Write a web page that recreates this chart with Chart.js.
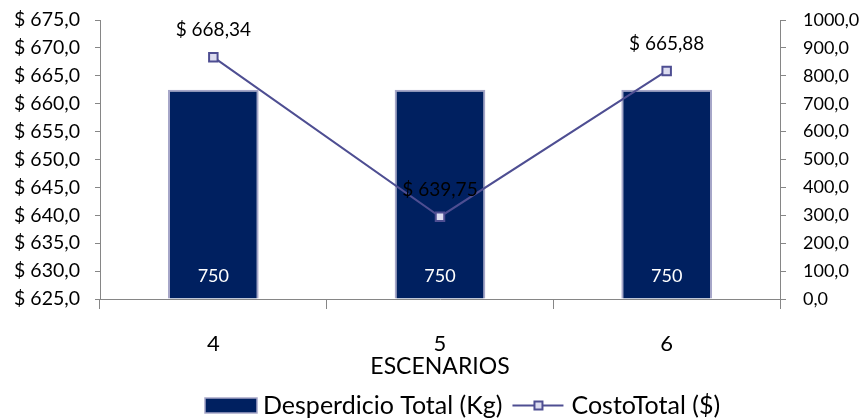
<!DOCTYPE html>
<html>
<head>
<meta charset="utf-8">
<script src="https://cdn.jsdelivr.net/npm/chart.js@4.4.1/dist/chart.umd.min.js"></script>
<style>
  html, body { margin: 0; padding: 0; background: #fff; }
  #wrap { width: 862px; height: 420px; position: relative; }
</style>
</head>
<body>
<div id="wrap"><canvas id="c" width="862" height="420"></canvas></div>
<script>
const categories = ['4', '5', '6'];
const desperdicioTotal = [750, 750, 750];
const costoTotal = [668.34, 639.75, 665.88];
const leftAxisMin = 625, leftAxisMax = 675, leftAxisStep = 5;
const rightAxisMin = 0, rightAxisMax = 1000, rightAxisStep = 100;
const xAxisTitle = 'ESCENARIOS';
const seriesNames = ['Desperdicio Total (Kg)', 'CostoTotal ($)'];

const FONT = 'Lato';
const AXIS_COLOR = '#868686';
const BAR_COLOR = '#002060';
const BAR_BORDER = '#a6a6c8';
const LINE_COLOR = '#4e4e92';
const MARKER_FILL = '#dcdcf0';

const fmt1 = v => v.toFixed(1).replace('.', ',');
const fmt2 = v => v.toFixed(2).replace('.', ',');

const labelsPlugin = {
  id: 'labelsPlugin',
  afterDatasetsDraw(chart) {
    const ctx = chart.ctx;
    ctx.save();
    const barMeta = chart.getDatasetMeta(0);
    ctx.font = '18px ' + FONT;
    ctx.fillStyle = '#ffffff';
    ctx.textAlign = 'center';
    ctx.textBaseline = 'middle';
    barMeta.data.forEach((el, i) => {
      ctx.fillText(String(chart.data.datasets[0].data[i]), el.x, el.base - 22);
    });
    const lineMeta = chart.getDatasetMeta(1);
    ctx.font = '19px ' + FONT;
    ctx.fillStyle = '#000000';
    lineMeta.data.forEach((el, i) => {
      ctx.fillText('$ ' + fmt2(chart.data.datasets[1].data[i]), el.x, el.y - 27);
    });
    ctx.restore();
  },
  afterDraw(chart) {
    const ctx = chart.ctx;
    ctx.save();
    ctx.font = '25px ' + FONT;
    ctx.textBaseline = 'middle';
    ctx.textAlign = 'left';
    const cy = 405.5;
    let x = 205;
    ctx.fillStyle = BAR_COLOR;
    ctx.fillRect(x, cy - 7.5, 52, 15);
    ctx.strokeStyle = BAR_BORDER;
    ctx.lineWidth = 1.5;
    ctx.strokeRect(x, cy - 7.5, 52, 15);
    x += 58;
    ctx.fillStyle = '#000';
    ctx.fillText(seriesNames[0], x, cy);
    x += ctx.measureText(seriesNames[0]).width + 10;
    ctx.strokeStyle = LINE_COLOR;
    ctx.lineWidth = 2;
    ctx.beginPath();
    ctx.moveTo(x, cy);
    ctx.lineTo(x + 51, cy);
    ctx.stroke();
    ctx.fillStyle = MARKER_FILL;
    ctx.fillRect(x + 22, cy - 4, 8, 8);
    ctx.strokeRect(x + 22, cy - 4, 8, 8);
    x += 59;
    ctx.fillStyle = '#000';
    ctx.fillText(seriesNames[1], x, cy);
    ctx.restore();
  }
};

function fixY(width) {
  return function (s) {
    s.width = width;
    s.paddingTop = 8;
    s.paddingBottom = 8;
  };
}

new Chart(document.getElementById('c'), {
  data: {
    labels: categories,
    datasets: [
      {
        type: 'bar',
        label: seriesNames[0],
        data: desperdicioTotal,
        yAxisID: 'yR',
        backgroundColor: BAR_COLOR,
        borderColor: BAR_BORDER,
        borderWidth: 2,
        barPercentage: 0.4,
        categoryPercentage: 1.0,
        order: 2
      },
      {
        type: 'line',
        label: seriesNames[1],
        data: costoTotal,
        yAxisID: 'yL',
        borderColor: LINE_COLOR,
        borderWidth: 2,
        pointStyle: 'rect',
        pointRadius: 6,
        pointBackgroundColor: MARKER_FILL,
        pointBorderColor: LINE_COLOR,
        pointBorderWidth: 2,
        tension: 0,
        order: 1
      }
    ]
  },
  options: {
    responsive: false,
    animation: false,
    devicePixelRatio: 1,
    layout: { padding: { top: 20, left: 0, right: 0, bottom: 40 } },
    plugins: { legend: { display: false }, tooltip: { enabled: false } },
    scales: {
      x: {
        offset: true,
        grid: { offset: true, drawOnChartArea: false, drawTicks: true, tickLength: 10, color: AXIS_COLOR, lineWidth: 1 },
        border: { color: AXIS_COLOR, width: 1 },
        ticks: { color: '#000', font: { family: FONT, size: 22 }, padding: 22, maxRotation: 0 },
        title: { display: true, text: xAxisTitle, color: '#000', font: { family: FONT, size: 23 }, padding: 0 },
        afterFit(s) { s.height = 81; }
      },
      yL: {
        position: 'left',
        min: leftAxisMin, max: leftAxisMax,
        grid: { drawOnChartArea: false, drawTicks: true, tickLength: 5, color: AXIS_COLOR },
        border: { color: AXIS_COLOR, width: 1 },
        ticks: { stepSize: leftAxisStep, color: '#000', font: { family: FONT, size: 19.5 }, padding: 15,
                 callback: v => '$ ' + fmt1(v) },
        afterFit: fixY(100)
      },
      yR: {
        position: 'right',
        min: rightAxisMin, max: rightAxisMax,
        grid: { drawOnChartArea: false, drawTicks: true, tickLength: 6, color: AXIS_COLOR },
        border: { color: AXIS_COLOR, width: 1 },
        ticks: { stepSize: rightAxisStep, color: '#000', font: { family: FONT, size: 18 }, padding: 17,
                 callback: v => fmt1(v) },
        afterFit: fixY(82)
      }
    }
  },
  plugins: [labelsPlugin]
});
</script>
</body>
</html>
